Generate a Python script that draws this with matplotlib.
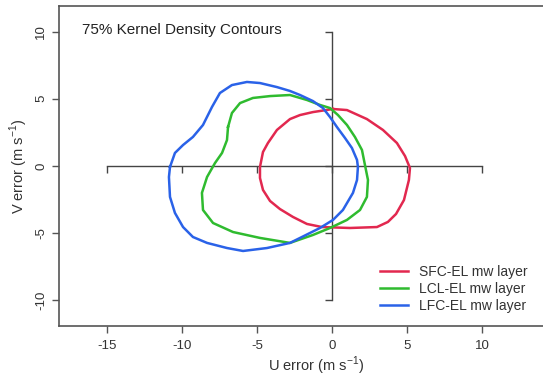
import matplotlib.pyplot as plt

plt.rcParams['font.family'] = ['Liberation Sans', 'DejaVu Sans']
plt.rcParams['axes.unicode_minus'] = False
plt.rcParams['mathtext.fontset'] = 'custom'
plt.rcParams['mathtext.rm'] = 'Liberation Sans'

#############################################################################
# Contour outlines (U error, V error in m s-1)

sfc_u = [0.07, 1.0, 2.33, 3.4, 4.33, 4.87, 5.2, 5.13, 4.8, 4.27, 3.73, 3.0,
         1.2, -0.67, -1.67, -2.6, -3.47, -4.13, -4.6, -4.8, -4.8, -4.6,
         -4.27, -3.67, -2.8, -2.13, -1.27, 0.07]
sfc_v = [4.24, 4.16, 3.49, 2.68, 1.71, 0.74, -0.15, -1.04, -2.53, -3.57,
         -4.16, -4.54, -4.61, -4.54, -4.31, -3.79, -3.2, -2.6, -1.78, -0.89,
         -0.07, 1.04, 1.71, 2.68, 3.49, 3.79, 4.01, 4.24]

lcl_u = [-6.93, -6.67, -6.13, -5.27, -4.13, -2.8, -1.67, -0.8, -0.13, 0.4,
         1.0, 1.53, 2.0, 2.2, 2.4, 2.33, 1.87, 1.0, -0.13, -1.27, -2.8, -4.8,
         -6.6, -7.93, -8.6, -8.67, -8.33, -7.8, -7.33, -7.0, -6.93]
lcl_v = [2.90, 3.94, 4.68, 5.06, 5.20, 5.28, 4.91, 4.54, 4.31, 3.79, 3.05,
         2.16, 1.19, 0.07, -1.04, -2.30, -3.27, -4.01, -4.61, -5.13, -5.72,
         -5.35, -4.91, -4.24, -3.27, -2.0, -0.82, 0.22, 0.97, 1.93, 2.90]

lfc_u = [-10.8, -10.47, -9.93, -9.27, -8.6, -8.0, -7.47, -6.67, -5.67, -4.8,
         -3.67, -2.8, -2.13, -1.27, -0.6, -0.13, 0.33, 0.87, 1.33, 1.67, 1.73,
         1.67, 1.4, 0.73, 0.07, -0.8, -2.13, -2.8, -4.33, -5.93, -7.0, -8.33,
         -9.27, -9.93, -10.47, -10.8, -10.87, -10.8]
lfc_v = [-0.07, 0.97, 1.56, 2.16, 3.05, 4.39, 5.43, 6.02, 6.25, 6.17, 5.87,
         5.58, 5.28, 4.83, 4.31, 3.64, 2.90, 2.08, 1.34, 0.45, -0.07, -1.04,
         -2.0, -3.27, -4.01, -4.61, -5.35, -5.72, -6.10, -6.32, -6.10, -5.72,
         -5.28, -4.54, -3.49, -2.30, -0.82, -0.07]

labels = ["SFC-EL mw layer", "LCL-EL mw layer", "LFC-EL mw layer"]
colors = ["#E2284F", "#2FBB2F", "#2A62E8"]

u_ticks = [-15, -10, -5, 0, 5, 10]
v_ticks = [-10, -5, 0, 5, 10]

#############################################################################
# Figure

fig = plt.figure(figsize=(5.43, 3.77), dpi=100)
ax = fig.add_axes([59 / 543, 51 / 377, 514 / 543, 320 / 377])
ax.set_xlim(-18.2, 16.07)
ax.set_ylim(-11.9, 11.9)

axis_color = "#555555"
for side in ["left", "bottom", "top"]:
    ax.spines[side].set_color(axis_color)
    ax.spines[side].set_linewidth(1.2)
ax.spines["right"].set_visible(False)

ax.set_xticks(u_ticks)
ax.set_yticks(v_ticks)
ax.tick_params(colors=axis_color, labelcolor="#333333", labelsize=9.5,
               length=5, width=1)
ax.tick_params(axis="x", pad=5)
for lbl in ax.get_yticklabels():
    lbl.set_rotation(90)
    lbl.set_va("center")

ax.set_xlabel("U error (m s$^{-1}$)", fontsize=10.5, color="#333333",
              labelpad=2)
ax.set_ylabel("V error (m s$^{-1}$)", fontsize=10.5, color="#333333",
              labelpad=4)

# centre cross with its own tick marks
ax.plot([min(u_ticks), max(u_ticks)], [0, 0], color="#444444", lw=1)
ax.plot(u_ticks, [0] * len(u_ticks), ls="none", marker=3, ms=5,
        mew=1, color="#444444")
ax.plot([0, 0], [min(v_ticks), max(v_ticks)], color="#444444", lw=1)
ax.plot([0] * len(v_ticks), v_ticks, ls="none", marker=0, ms=5,
        mew=1, color="#444444")

for u, v, c, lab in zip([sfc_u, lcl_u, lfc_u], [sfc_v, lcl_v, lfc_v],
                        colors, labels):
    ax.plot(u, v, color=c, lw=1.8, label=lab, solid_joinstyle="round")

ax.text(0.045, 0.925, "75% Kernel Density Contours", transform=ax.transAxes,
        fontsize=11, va="center", ha="left", color="#222222")

leg = ax.legend(loc="upper left", bbox_to_anchor=(0.6245, 0.19),
                frameon=False, fontsize=10, handlelength=2.0,
                handletextpad=0.8, labelspacing=0.2, borderpad=0,
                borderaxespad=0)
for t in leg.get_texts():
    t.set_color("#333333")

fig.savefig("out.png", dpi=100)
